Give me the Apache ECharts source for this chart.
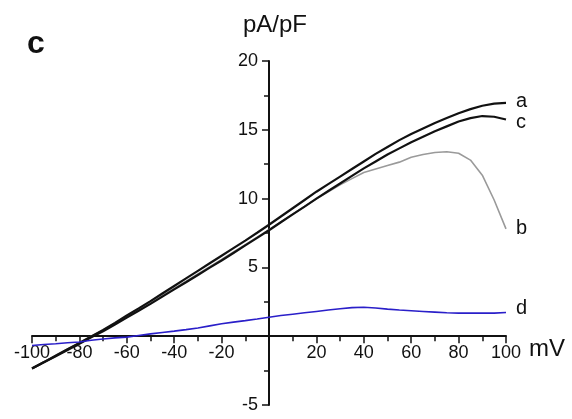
<!DOCTYPE html>
<html><head><meta charset="utf-8">
<script src="https://cdn.jsdelivr.net/npm/echarts@6/dist/echarts.min.js"></script>
<style>html,body{margin:0;padding:0;background:#fff}#c{width:572px;height:419px}</style>
</head><body><div id="c"></div>
<script>
const mV = [-100,-95,-90,-85,-80,-75,-70,-65,-60,-55,-50,-45,-40,-35,-30,-25,-20,-15,-10,-5,0,5,10,15,20,25,30,35,40,45,50,55,60,65,70,75,80,85,90,95,100];
const seriesA = [-2.35,-1.9,-1.42,-0.95,-0.5,-0.02,0.45,0.97,1.5,2.02,2.55,3.1,3.65,4.2,4.75,5.3,5.85,6.4,6.95,7.52,8.1,8.7,9.3,9.9,10.5,11.05,11.6,12.15,12.7,13.25,13.75,14.25,14.7,15.1,15.5,15.85,16.2,16.5,16.75,16.9,16.95];
const seriesB = [-2.3,-1.85,-1.38,-0.92,-0.47,0.0,0.43,0.93,1.43,1.93,2.43,2.96,3.48,4.0,4.53,5.05,5.58,6.12,6.66,7.2,7.75,8.3,8.87,9.42,9.98,10.5,11.0,11.45,11.9,12.15,12.4,12.65,13.0,13.2,13.35,13.4,13.3,12.8,11.7,9.9,7.8];
const seriesC = [-2.35,-1.9,-1.45,-1.0,-0.55,-0.08,0.35,0.85,1.35,1.85,2.35,2.88,3.4,3.92,4.45,4.98,5.5,6.05,6.6,7.15,7.7,8.28,8.85,9.42,10.0,10.55,11.1,11.65,12.2,12.7,13.2,13.65,14.1,14.5,14.9,15.25,15.6,15.85,16.0,15.95,15.75];
const seriesD = [-0.68,-0.6,-0.55,-0.48,-0.42,-0.3,-0.2,-0.12,-0.07,0.05,0.17,0.27,0.37,0.48,0.6,0.75,0.9,1.02,1.13,1.25,1.38,1.5,1.6,1.7,1.8,1.9,2.0,2.08,2.1,2.05,1.97,1.9,1.85,1.8,1.75,1.7,1.68,1.68,1.68,1.68,1.72];
const names = ['a','b','c','d'];
const xTicks = {min:-100, max:100, interval:20};
const yTicks = {min:-5, max:20, interval:5};

const zip = arr => mV.map((x,i)=>[x, arr[i]]);
const font = '"Liberation Sans", Arial, sans-serif';
const chart = echarts.init(document.getElementById('c'));
const G = {left:32, right:66, top:61, bottom:14};
function mk(name, data, color, width, z, offset){
  return {name, type:'line', data:zip(data), showSymbol:false, symbol:'none', z,
    lineStyle:{color, width}, itemStyle:{color}, animation:false,
    endLabel:{show:true, formatter:name, color:'#111', fontSize:20, fontFamily:font, offset:offset, distance:10}};
}
const tickStyle = {color:'#111', width:1.5};
chart.setOption({
  animation:false,
  grid:{left:G.left, right:G.right, top:G.top, bottom:G.bottom, containLabel:false, outerBoundsMode:'none'},
  xAxis:{type:'value', position:'bottom', min:xTicks.min, max:xTicks.max, interval:xTicks.interval,
    axisLine:{onZero:false, lineStyle:{color:'#111', width:2}},
    axisTick:{length:7, lineStyle:tickStyle},
    minorTick:{show:true, splitNumber:2, length:5, lineStyle:tickStyle},
    splitLine:{show:false},
    axisLabel:{color:'#111', fontSize:18, fontFamily:font, margin:8, formatter:v=> v===0?'':String(v)}},
  yAxis:{type:'value', position:'left', min:yTicks.min, max:yTicks.max, interval:yTicks.interval,
    axisLine:{onZero:false, lineStyle:{color:'#111', width:2}},
    axisTick:{length:7, lineStyle:tickStyle},
    minorTick:{show:true, splitNumber:2, length:5, lineStyle:tickStyle},
    splitLine:{show:false},
    axisLabel:{color:'#111', fontSize:18, fontFamily:font, margin:11, formatter:v=> v===0?'':String(v)}},
  series:[
    mk(names[1], seriesB, '#9a9a9a', 1.6, 2, [0,0]),
    mk(names[2], seriesC, '#111', 2.2, 3, [0,3]),
    mk(names[0], seriesA, '#111', 2.2, 4, [0,-1]),
    mk(names[3], seriesD, '#2a1fc9', 1.6, 5, [0,-4])
  ],
  graphic:[
    {type:'text', left:27, top:28, style:{text:'c', font:'bold 32px '+font, fill:'#111'}},
    {type:'text', x:275, y:25, style:{text:'pA/pF', font:'24px '+font, fill:'#111', align:'center', verticalAlign:'middle'}},
    {type:'text', x:529, y:349, style:{text:'mV', font:'24px '+font, fill:'#111', align:'left', verticalAlign:'middle'}}
  ]
});
// move both axes so they cross at the origin (labels travel with them)
const x0 = chart.convertToPixel({xAxisIndex:0}, 0);
const y0 = chart.convertToPixel({yAxisIndex:0}, 0);
const H = chart.getHeight();
chart.setOption({
  yAxis:{offset: -(x0 - G.left)},
  xAxis:{offset: -((H - G.bottom) - y0)}
});
</script></body></html>
